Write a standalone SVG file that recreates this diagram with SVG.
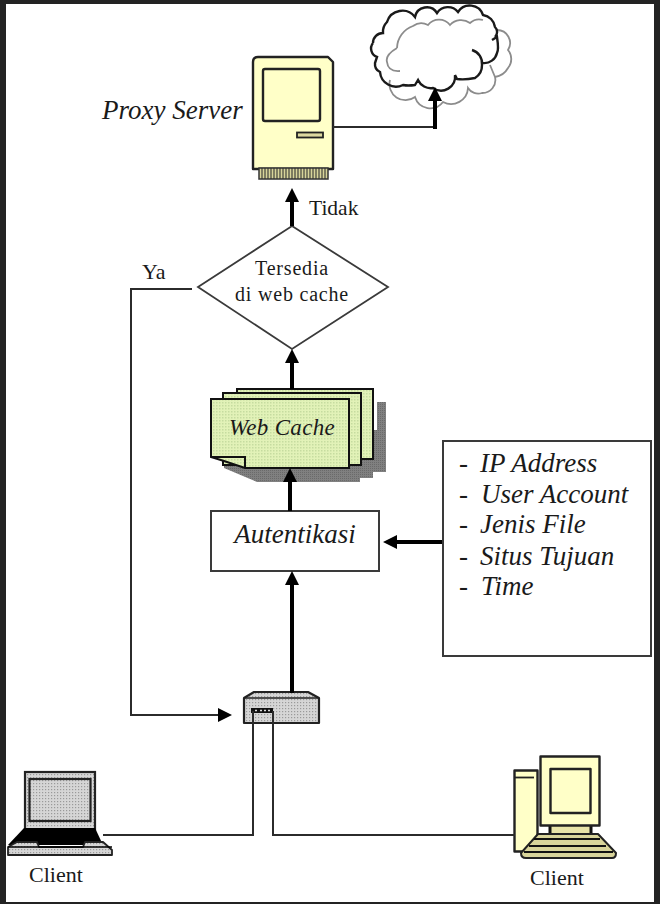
<svg xmlns="http://www.w3.org/2000/svg" width="660" height="904" viewBox="0 0 660 904">
<style>
text{font-family:"Liberation Serif","Times New Roman",serif;fill:#1a1a1a}
.i{font-style:italic}
.s{fill:none;stroke:#2b2b2b;stroke-width:2;stroke-linejoin:miter}
.t{fill:none;stroke:#000;stroke-width:4}
.b{stroke:#222;stroke-width:2.4;stroke-linejoin:round}
.y{fill:#ffffc8}
.box{fill:#fff;stroke:#3a3a3a;stroke-width:2}
</style>
<defs>
<pattern id="grey" width="3" height="3" patternUnits="userSpaceOnUse"><rect width="3" height="3" fill="#d6d6d6"/><rect width="1.2" height="1.2" fill="#9a9a9a"/></pattern>
<pattern id="green" width="3" height="3" patternUnits="userSpaceOnUse"><rect width="3" height="3" fill="#e2f2b8"/><rect width="1.5" height="1.5" fill="#c6dca0"/></pattern>
<pattern id="shade" width="2" height="2" patternUnits="userSpaceOnUse"><rect width="2" height="2" fill="#808080"/><rect width="1" height="1" fill="#6a6a6a"/></pattern>
<marker id="a" markerUnits="userSpaceOnUse" markerWidth="18" markerHeight="18" refX="6" refY="8" orient="auto"><path d="M0 1L14 8L0 15Z" fill="#000"/></marker>
</defs>
<rect width="660" height="904" fill="#fff"/>

<g id="cloud">
<path d="M397 48A24 24 0 0 1 413 26A14 14 0 0 1 428 25A14 14 0 0 1 450 25A15 15 0 0 1 470 23A14 14 0 0 1 483 20M497 30A13 13 0 0 1 508 50A14 14 0 0 1 508 68A18 18 0 0 1 495 77A13 13 0 0 1 482 93A12 12 0 0 1 468 88A17 17 0 0 1 443 102A16 16 0 0 1 415 97A16 16 0 0 1 390 80M397 48Q385 55 387 62Q388 72 400 71M490 65L495 77" fill="none" stroke="#8c8c8c" stroke-width="1.800"/>
<path d="M373 43A10 10 0 0 1 383 33A14 14 0 0 1 387 22L387 22A16 16 0 0 1 415 17A12 12 0 0 1 437 13A13 13 0 0 1 458 12A14 14 0 0 1 483 15A14 14 0 0 1 495 27A7 7 0 0 1 495 37M492 40L497 37Q499 50 497 53A13 13 0 0 1 483 63M472 50A14 14 0 0 1 482 65A15 15 0 0 1 475 78Q465 80 457 79L455 75A14 14 0 0 1 433 88A14 14 0 0 1 418 80L415 85Q408 86 403 85A16 16 0 0 1 380 72A9 9 0 0 1 375 63L377 57A9 9 0 0 1 373 43" fill="none" stroke="#1a1a1a" stroke-width="2.400"/>
</g>

<g id="proxy-server">
<path class="b y" d="M253 62Q253 57 258 57H328L333 62V169H253Z"/>
<rect class="b y" x="263" y="69" width="57" height="52" rx="2"/>
<rect x="297" y="132.500" width="26" height="5" fill="#ddd9a0" stroke="#222" stroke-width="1.800"/>
<rect x="259" y="168" width="69" height="11" fill="#d8d49a" stroke="#333" stroke-width="1.500"/>
<path d="M262 168V179M265 168V179M268 168V179M271 168V179M274 168V179M277 168V179M280 168V179M283 168V179M286 168V179M289 168V179M292 168V179M295 168V179M298 168V179M301 168V179M304 168V179M307 168V179M310 168V179M313 168V179M316 168V179M319 168V179M322 168V179M325 168V179" stroke="#333" stroke-width="1.100" fill="none"/>
<text class="i" x="102" y="119" font-size="27">Proxy Server</text>
</g>

<g id="decision">
<path d="M292 226L388 287L292 349L198 287Z" fill="#fff" stroke="#3a3a3a" stroke-width="1.800"/>
<text x="292" y="275" font-size="20" letter-spacing=".8" text-anchor="middle">Tersedia</text>
<text x="292" y="301" font-size="20" letter-spacing=".8" text-anchor="middle">di web cache</text>
</g>
<text id="label-ya" x="142" y="279" font-size="22">Ya</text>
<text id="label-tidak" x="309" y="215" font-size="21.500">Tidak</text>

<g id="web-cache">
<path d="M377 402H386V472H373V478H360V482H257L224 468V430H377Z" fill="url(#shade)"/>
<rect x="237" y="389" width="136" height="70" fill="url(#green)" stroke="#111" stroke-width="2"/>
<rect x="223" y="393" width="138" height="72" fill="url(#green)" stroke="#111" stroke-width="2"/>
<path d="M211 399H349V468H245L224 461L211 457Z" fill="url(#green)" stroke="#111" stroke-width="2"/>
<path d="M211 457H245V468" fill="none" stroke="#111" stroke-width="2"/>
<text class="i" x="282" y="435" font-size="23" letter-spacing=".3" text-anchor="middle">Web Cache</text>
</g>

<g id="autentikasi">
<rect class="box" x="211" y="511" width="168" height="60"/>
<text class="i" x="295" y="543" font-size="27" text-anchor="middle">Autentikasi</text>
</g>

<g id="criteria">
<rect class="box" x="443" y="441" width="208" height="215"/>
<text x="459" y="472" font-size="27">-</text><text class="i" x="480" y="472" font-size="27">IP Address</text>
<text x="459" y="503" font-size="27">-</text><text class="i" x="481" y="503" font-size="27">User Account</text>
<text x="459" y="533" font-size="27">-</text><text class="i" x="480" y="533" font-size="27">Jenis File</text>
<text x="459" y="565" font-size="27">-</text><text class="i" x="480" y="565" font-size="27">Situs Tujuan</text>
<text x="459" y="595" font-size="27">-</text><text class="i" x="481" y="595" font-size="27">Time</text>
</g>

<g id="hub">
<path d="M244 698L254 692H308L319 698V723H244Z" fill="url(#grey)" stroke="#222" stroke-width="2.200" stroke-linejoin="round"/>
<path d="M244 698H319" stroke="#222" stroke-width="1.500"/>
<rect x="251" y="708" width="22" height="5" fill="#111"/>
<path d="M255 710.500H257M260 710.500H262M264 710.500H266M268 710.500H270" stroke="#ddd" stroke-width="1.500"/>
</g>

<g id="client-laptop">
<rect x="25" y="772" width="70" height="60" fill="url(#grey)" stroke="#222" stroke-width="2.200"/>
<rect x="29.500" y="779" width="61" height="42" fill="url(#grey)" stroke="#222" stroke-width="2.200"/>
<path d="M24 828H95L103 845H8Z" fill="#000"/>
<path d="M8 855V847L17 842H37L39 847H83L85 842H103L112 850V855Z" fill="url(#grey)" stroke="#222" stroke-width="1.800" stroke-linejoin="round"/>
<path d="M8 847H112" stroke="#000" stroke-width="1.500"/>
<text x="29" y="882" font-size="22">Client</text>
</g>

<g id="client-desktop">
<rect class="b y" x="514.500" y="770.500" width="23" height="81"/>
<path d="M515 777.500H534" stroke="#222" stroke-width="1.800"/>
<rect x="549" y="825" width="42" height="10" fill="#e8e4a8"/>
<path d="M550 825V835M591 825V835" stroke="#111" stroke-width="3"/>
<rect class="b y" x="540.500" y="756.500" width="59" height="69"/>
<rect class="b y" x="550.500" y="769" width="40" height="44"/>
<path d="M538 834H598L616 853Q616 858 612 858H526Q521 858 521 853Z" fill="#d8d49a" stroke="#222" stroke-width="2" stroke-linejoin="round"/>
<path d="M534 839H600M529 846H606M524 852H613" stroke="#111" stroke-width="2.200"/>
<text x="530" y="885" font-size="22">Client</text>
</g>

<g id="connectors">
<path class="s" d="M333 127H435"/>
<path class="t" d="M435 129V95" marker-end="url(#a)"/>
<path class="t" d="M292 226V196" marker-end="url(#a)"/>
<path class="s" d="M192 289H131V715H224" marker-end="url(#a)"/>
<path class="t" d="M292 389V357" marker-end="url(#a)"/>
<path class="t" d="M290 511V476" marker-end="url(#a)"/>
<path class="t" d="M292 693V579" marker-end="url(#a)"/>
<path class="t" d="M442 542H391" marker-end="url(#a)"/>
<path class="s" d="M103 835H253V711"/>
<path class="s" d="M515 835H273V711"/>
</g>

<g id="frame" fill="#232323">
<rect x="0" y="0" width="660" height="4"/>
<rect x="0" y="0" width="6" height="904"/>
<rect x="0" y="902" width="660" height="2"/>
<rect x="654" y="0" width="6" height="904"/>
</g>
</svg>
